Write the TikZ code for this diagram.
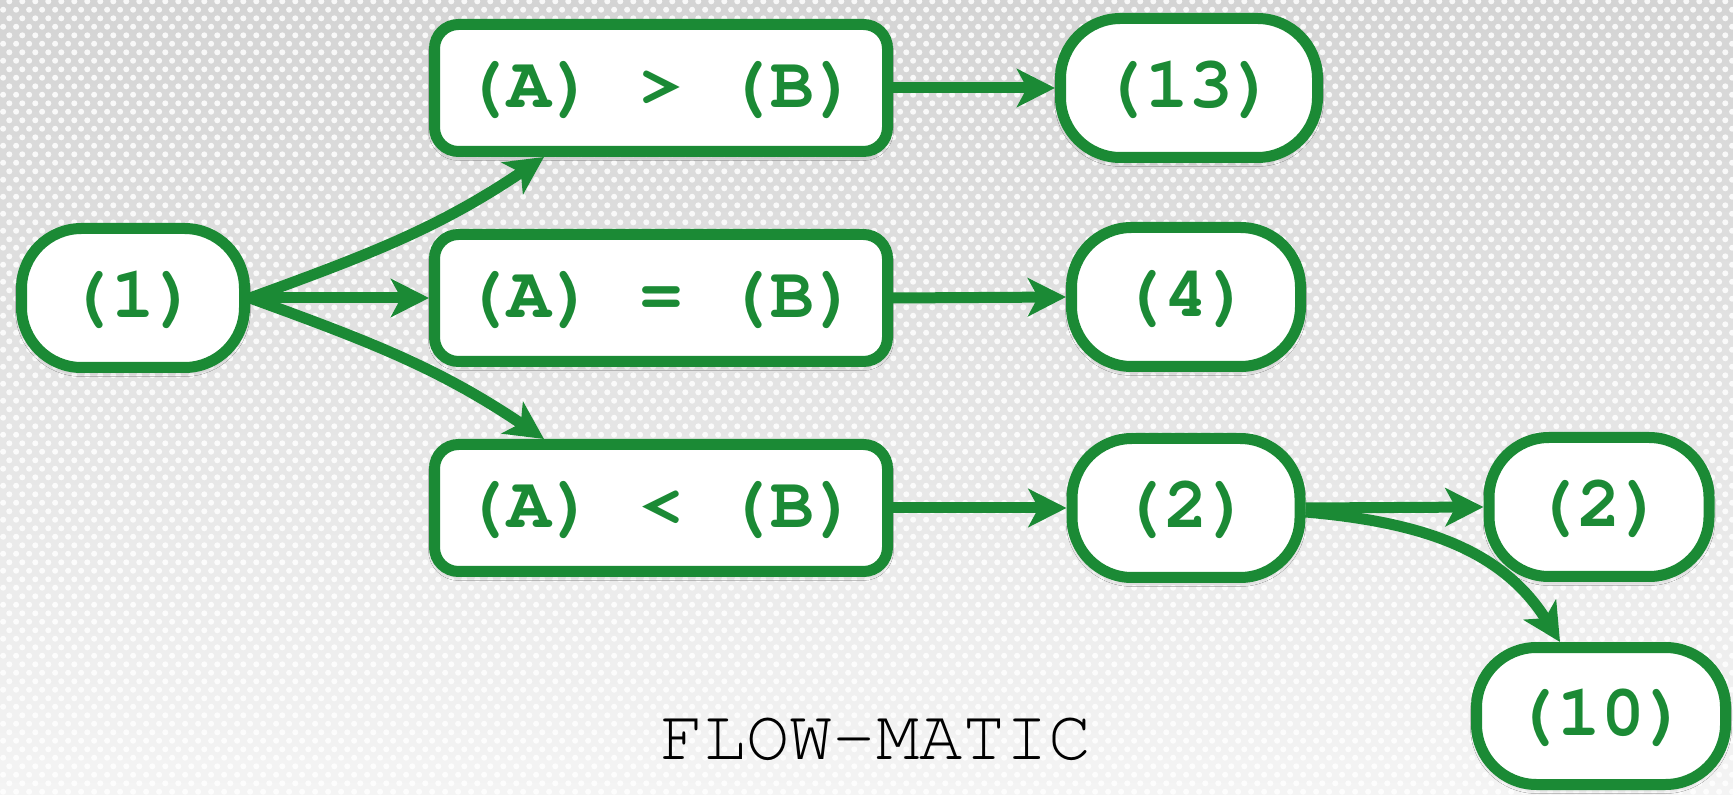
\documentclass[tikz,border=0pt]{standalone}
\usepackage[T1]{fontenc}
\usetikzlibrary{arrows.meta,calc,patterns.meta,shadows.blur}

\definecolor{flowgreen}{HTML}{1B8A35}
\definecolor{bgtop}{HTML}{D4D4D4}
\definecolor{bgbottom}{HTML}{F4F4F4}

% Courier faces for the labels
\newcommand{\courierbold}{\fontencoding{T1}\fontfamily{pcr}\fontseries{b}\selectfont}
\newcommand{\courierplain}{\fontencoding{T1}\fontfamily{pcr}\fontseries{m}\selectfont}

% staggered grid of small dots for the backdrop
\tikzdeclarepattern{
  name=bgdots,
  type=uncolored,
  bounding box={(0pt,0pt) and (6.35pt,8.7pt)},
  tile size={(6.35pt,8.7pt)},
  code={
    \fill (1.6pt,2.2pt) circle [radius=1.55pt];
    \fill (4.75pt,6.55pt) circle [radius=1.55pt];
  }
}

\begin{document}
\begin{tikzpicture}[x=0.5pt,y=-0.5pt,
  box/.style={draw=flowgreen, line width=5.5pt, fill=white,
    rounded corners=12pt, minimum width=226.5pt, minimum height=63.5pt,
    inner sep=0pt, text=flowgreen,
    font=\courierbold\fontsize{36.5}{36.5}\selectfont,
    blur shadow={shadow xshift=0pt, shadow yshift=-1.5pt,
      shadow blur radius=3pt, shadow opacity=30}},
  pill/.style={box, rounded corners=30pt, minimum height=69.5pt},
  flow/.style={draw=flowgreen, line width=5.5pt,
    -{Stealth[length=19pt,width=19pt,inset=5pt]}},
  caption/.style={inner sep=0pt, text=black,
    font=\courierplain\fontsize{36}{36}\selectfont}
]
  % backdrop
  \useasboundingbox (0,0) rectangle (1733,795);
  \fill[top color=bgtop, bottom color=bgbottom] (0,0) rectangle (1733,795);
  \fill[pattern=bgdots, pattern color=white, opacity=0.85] (0,0) rectangle (1733,795);

  % nodes
  \node[pill, minimum width=111.5pt] (n1)  at (133,298)  {(1)};
  \node[box] (gt) at (661,88)  {(A) > (B)};
  \node[box] (eq) at (661,298) {(A) = (B)};
  \node[box] (lt) at (661,508) {(A) < (B)};
  \node[pill, minimum width=128.5pt] (n13) at (1189,88)  {(13)};
  \node[pill, minimum width=114.5pt] (n4)  at (1186,297) {(4)};
  \node[pill, minimum width=114pt]   (n2a) at (1186,508) {(2)};
  \node[pill, minimum width=110pt]   (n2b) at (1599,507) {(2)};
  \node[pill, minimum width=124.5pt, minimum height=68.5pt] (n10) at (1601,716) {(10)};

  % entry points on the condition boxes and the last box
  \coordinate (gtin)  at ($(gt.south)+(-117,0)$);
  \coordinate (ltin)  at ($(lt.north)+(-117,0)$);
  \coordinate (n10in) at ($(n10.north)+(-41,0)$);

  % connectors
  \draw[flow] (n1.east) to[out=20, in=-146] (gtin);
  \draw[flow] (n1.east) -- (eq.west);
  \draw[flow] (n1.east) to[out=-20, in=146] (ltin);
  \draw[flow] (gt.east) -- (n13.west);
  \draw[flow] (eq.east) -- (n4.west);
  \draw[flow] (lt.east) -- (n2a.west);
  \draw[flow] (n2a.east) -- (n2b.west);
  \draw[flow] ($(n2a.east)+(0,4)$) to[out=-5, in=122] (n10in);

  % caption
  \node[caption] (title) at (876,739) {FLOW-MATIC};
\end{tikzpicture}
\end{document}
